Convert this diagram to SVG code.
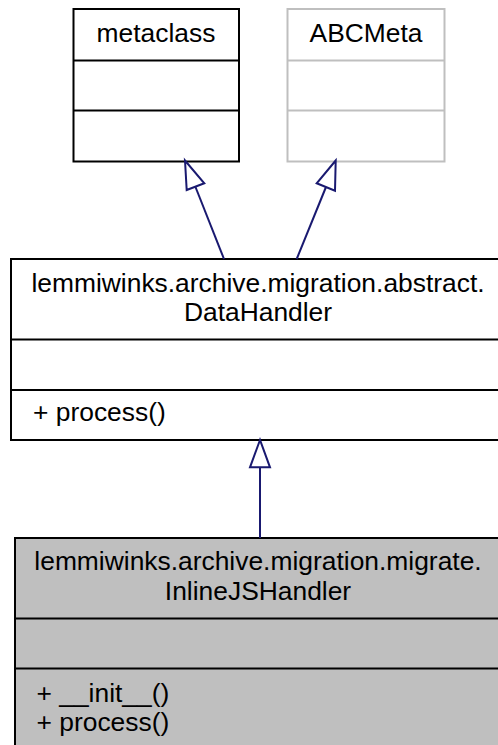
<svg xmlns="http://www.w3.org/2000/svg" width="498" height="745" viewBox="0 0 498 745">
<style>
  .box { fill: #ffffff; stroke: #000000; stroke-width: 2; }
  .boxg { fill: #ffffff; stroke: #bfbfbf; stroke-width: 2; }
  .boxsel { fill: #bfbfbf; stroke: #000000; stroke-width: 2; }
  .div { stroke: #000000; stroke-width: 2; }
  .divg { stroke: #bfbfbf; stroke-width: 2; }
  text { font-family: "Liberation Sans", Arial, Helvetica, sans-serif; font-size: 26.4px; fill: #000000; }
  .c { text-anchor: middle; }
  .edge { stroke: #191970; stroke-width: 2; fill: none; }
  .head { stroke: #191970; stroke-width: 2; fill: #ffffff; }
</style>
<rect width="498" height="745" fill="#ffffff"/>
<g id="metaclass">
  <rect class="box" x="73.5" y="9" width="165.5" height="152.5"/>
  <line class="div" x1="73.5" y1="60.5" x2="239" y2="60.5"/>
  <line class="div" x1="73.5" y1="110.5" x2="239" y2="110.5"/>
  <text class="c" x="156" y="42">metaclass</text>
</g>
<g id="ABCMeta">
  <rect class="boxg" x="287.5" y="9" width="157" height="152.5"/>
  <line class="divg" x1="287.5" y1="60.5" x2="444.5" y2="60.5"/>
  <line class="divg" x1="287.5" y1="110.5" x2="444.5" y2="110.5"/>
  <text class="c" x="366" y="42">ABCMeta</text>
</g>
<g id="DataHandler">
  <rect class="box" x="11" y="259" width="500" height="181"/>
  <line class="div" x1="11" y1="339.5" x2="511" y2="339.5"/>
  <line class="div" x1="11" y1="390" x2="511" y2="390"/>
  <text class="c" x="258" y="292">lemmiwinks.archive.migration.abstract.</text>
  <text class="c" x="258" y="321">DataHandler</text>
  <text x="33" y="421">+ process()</text>
</g>
<g id="InlineJSHandler">
  <rect class="boxsel" x="15" y="538" width="500" height="220"/>
  <line class="div" x1="15" y1="618.5" x2="515" y2="618.5"/>
  <line class="div" x1="15" y1="668.5" x2="515" y2="668.5"/>
  <text class="c" x="258" y="570">lemmiwinks.archive.migration.migrate.</text>
  <text class="c" x="258" y="600">InlineJSHandler</text>
  <text x="36.5" y="702">+ __init__()</text>
  <text x="36.5" y="731">+ process()</text>
</g>
<g id="connectors">
  <line class="edge" x1="195.5" y1="187" x2="224" y2="259"/>
  <polygon class="head" points="185,160.5 186.7,190 204.3,183.3"/>
  <line class="edge" x1="326" y1="187" x2="296.7" y2="259"/>
  <polygon class="head" points="335.7,160.5 316.7,183.3 335,190.7"/>
  <line class="edge" x1="260" y1="467.3" x2="260" y2="538"/>
  <polygon class="head" points="260,440 250,467.3 270,467.3"/>
</g>
</svg>
